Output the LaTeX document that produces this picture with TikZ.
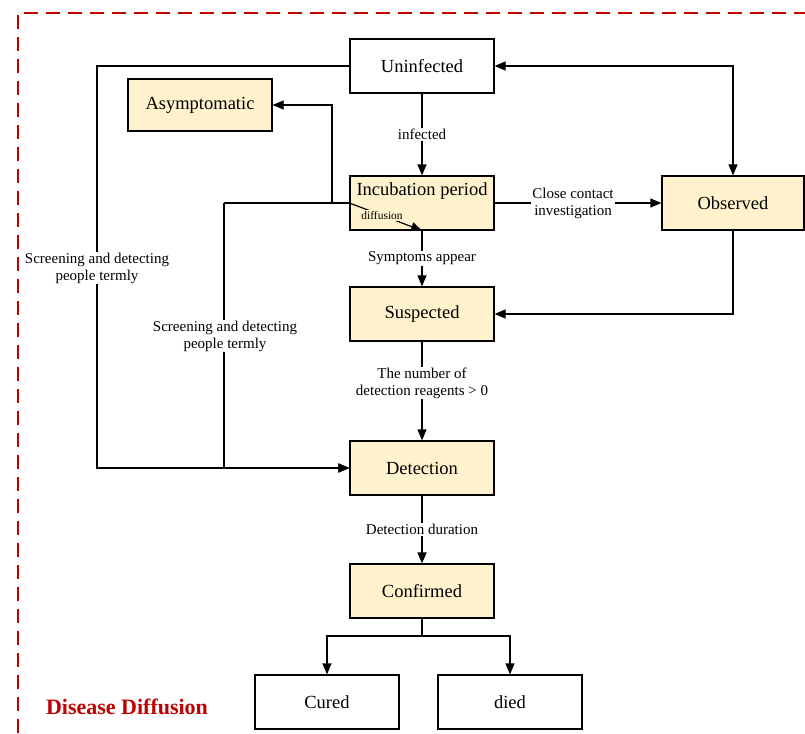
\documentclass[tikz,border=0pt]{standalone}
\usepackage{fontspec}
\setmainfont{Liberation Serif}
\usetikzlibrary{arrows.meta}
\definecolor{cream}{HTML}{FFF2CC}
\definecolor{dred}{HTML}{C00000}
\begin{document}
\begin{tikzpicture}[x=1pt,y=-1pt,
 box/.style={draw,line width=1.2pt,minimum width=144pt,minimum height=54pt,font=\fontsize{18.5}{21}\selectfont,inner sep=0pt},
 ybox/.style={box,fill=cream},
 conn/.style={line width=1.2pt,-{Triangle[length=11pt,width=9pt]}},
 plain/.style={line width=1.2pt},
 lbl/.style={font=\fontsize{15}{17}\selectfont,fill=white,inner sep=1pt,align=center}]
\useasboundingbox (0,0) rectangle (805,733);
\draw[dred,dash pattern=on 14pt off 8pt,line width=1.5pt] (18,733) -- (18,13) -- (805,13);
\node[box] (un) at (422,66) {Uninfected};
\node[ybox,minimum height=52pt] (as) at (200,105) {Asymptomatic};
\node[ybox] (inc) at (422,203) {};
\node[font=\fontsize{18.5}{21}\selectfont] (inct) at (422,191) {Incubation period};
\node[ybox,minimum width=142pt] (obs) at (733,203) {Observed};
\node[ybox] (sus) at (422,314) {Suspected};
\node[ybox] (det) at (422,468) {Detection};
\node[ybox] (con) at (422,591) {Confirmed};
\node[box] (cur) at (327,702) {Cured};
\node[box] (died) at (510,702) {died};
\draw[conn] (un) -- node[lbl]{infected} (inc);
\draw[conn] (inc) -- node[lbl]{Symptoms appear} (sus);
\draw[conn] (sus) -- node[lbl,pos=0.42]{The number of\\detection reagents > 0} (det);
\draw[conn] (det) -- node[lbl]{Detection duration} (con);
\draw[conn] (inc) -- node[lbl,pos=0.47]{Close contact\\investigation} (obs);
\draw[line width=1.2pt,{Triangle[length=11pt,width=9pt]}-{Triangle[length=11pt,width=9pt]}] (un.east) -| (obs.north);
\draw[conn] (obs.south) |- (sus.east);
\coordinate (k1) at (97,66);
\draw[conn] (un.west) -- (k1) |- (det.west);
\node[lbl] (s1) at (97,268) {Screening and detecting\\people termly};
\coordinate (j1) at (332,203);
\coordinate (j2) at (224,203);
\draw[conn] (j1) |- (as.east);
\draw[plain] (inc.west) -- (j2);
\draw[conn] (j2) |- (det.west);
\node[lbl] (s2) at (225,336) {Screening and detecting\\people termly};
\draw[conn] (inc.west) -- node[font=\fontsize{11.5}{13}\selectfont,fill=cream,inner sep=1pt,pos=0.45]{diffusion} (inc.south);
\coordinate (j3) at (422,636);
\draw[plain] (con.south) -- (j3);
\draw[conn] (j3) -| (cur.north);
\draw[conn] (j3) -| (died.north);
\node[text=dred,font=\bfseries\fontsize{22}{26}\selectfont] (title) at (127,707) {Disease Diffusion};
\end{tikzpicture}
\end{document}
